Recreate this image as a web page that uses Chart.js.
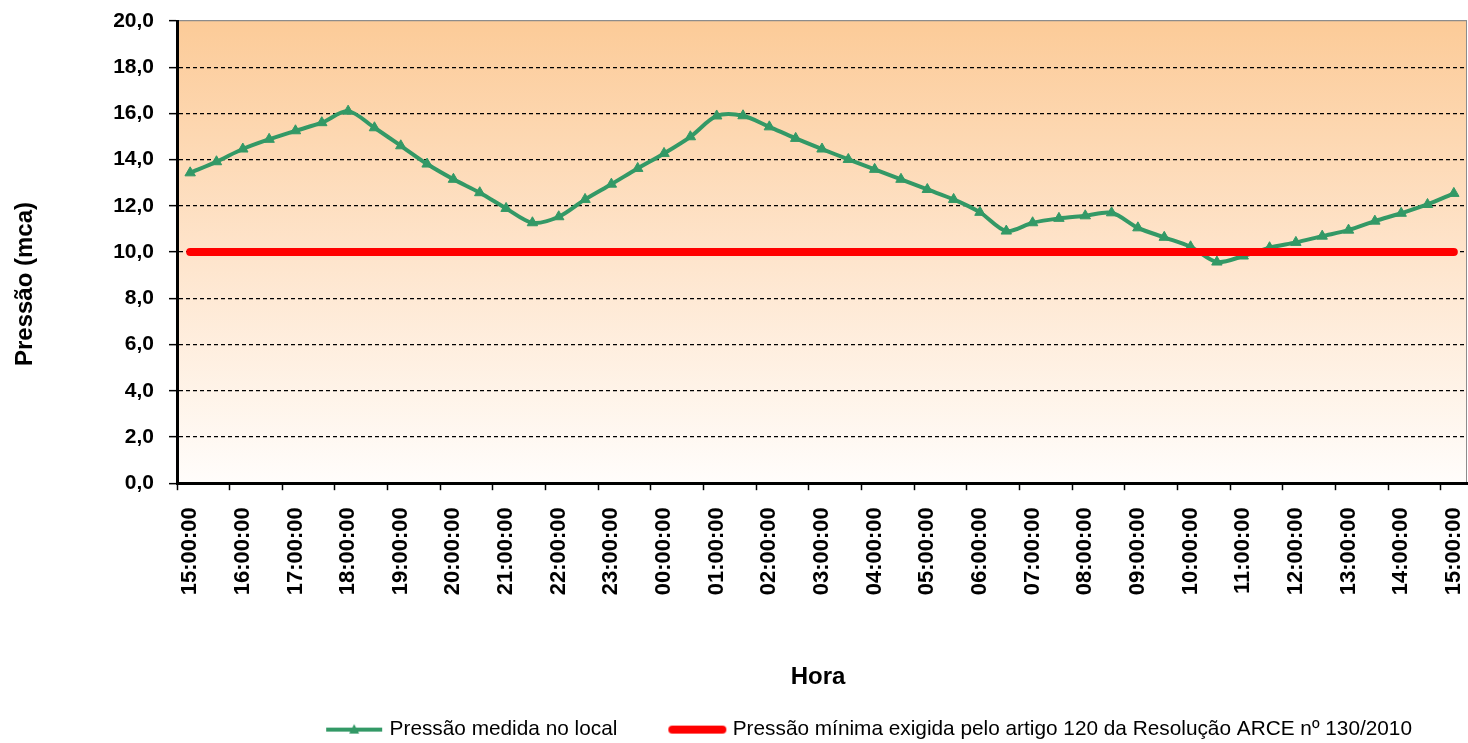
<!DOCTYPE html>
<html>
<head>
<meta charset="utf-8">
<script src="https://cdn.jsdelivr.net/npm/chart.js@4.4.1/dist/chart.umd.min.js"></script>
<style>
  body { margin: 0; background: #fff; }
  #wrap { width: 1468px; height: 743px; position: relative; }
</style>
</head>
<body>
<div id="wrap"><canvas id="pressaoChart"></canvas></div>
<script>
// --- Dados ---
const horas = [
    '15:00:00', '15:30:00', '16:00:00', '16:30:00', '17:00:00', '17:30:00', '18:00:00', '18:30:00',
    '19:00:00', '19:30:00', '20:00:00', '20:30:00', '21:00:00', '21:30:00', '22:00:00', '22:30:00',
    '23:00:00', '23:30:00', '00:00:00', '00:30:00', '01:00:00', '01:30:00', '02:00:00', '02:30:00',
    '03:00:00', '03:30:00', '04:00:00', '04:30:00', '05:00:00', '05:30:00', '06:00:00', '06:30:00',
    '07:00:00', '07:30:00', '08:00:00', '08:30:00', '09:00:00', '09:30:00', '10:00:00', '10:30:00',
    '11:00:00', '11:30:00', '12:00:00', '12:30:00', '13:00:00', '13:30:00', '14:00:00', '14:30:00',
    '15:00:00'
];

const pressaoMedida = [
    13.43, 13.91, 14.46, 14.88, 15.25, 15.60, 16.10, 15.38,
    14.60, 13.81, 13.15, 12.57, 11.89, 11.27, 11.53, 12.28,
    12.94, 13.62, 14.27, 14.99, 15.89, 15.90, 15.42, 14.92,
    14.46, 14.01, 13.58, 13.15, 12.71, 12.28, 11.72, 10.91,
    11.27, 11.46, 11.57, 11.70, 11.05, 10.64, 10.23, 9.57,
    9.83, 10.19, 10.42, 10.69, 10.95, 11.34, 11.68, 12.06,
    12.54
];

const pressaoMinima = [
    10, 10, 10, 10, 10, 10, 10, 10, 10, 10, 10, 10, 10, 10, 10, 10,
    10, 10, 10, 10, 10, 10, 10, 10, 10, 10, 10, 10, 10, 10, 10, 10,
    10, 10, 10, 10, 10, 10, 10, 10, 10, 10, 10, 10, 10, 10, 10, 10,
    10
];

const nomeMedida = 'Pressão medida no local';
const nomeMinima = 'Pressão mínima exigida pelo artigo 120 da Resolução ARCE nº 130/2010';

const VERDE = '#339966';
const VERMELHO = '#ff0000';

Chart.defaults.font.family = '"Liberation Sans", Arial, sans-serif';
Chart.defaults.color = '#000';

// --- Amostras da legenda (linha + marcador) ---
function amostraVerde() {
    const c = document.createElement('canvas');
    c.width = 58; c.height = 14;
    const g = c.getContext('2d');
    g.strokeStyle = VERDE;
    g.lineWidth = 4;
    g.beginPath(); g.moveTo(1, 7); g.lineTo(57, 7); g.stroke();
    g.fillStyle = VERDE;
    g.beginPath(); g.moveTo(29, 1.5); g.lineTo(34, 11); g.lineTo(24, 11); g.closePath(); g.fill();
    return c;
}

function amostraVermelha() {
    const c = document.createElement('canvas');
    c.width = 60; c.height = 12;
    const g = c.getContext('2d');
    g.strokeStyle = VERMELHO;
    g.lineWidth = 8;
    g.lineCap = 'round';
    g.beginPath(); g.moveTo(5, 6); g.lineTo(55, 6); g.stroke();
    return c;
}

const amostras = [amostraVerde(), amostraVermelha()];

// --- Fundo em degradê, borda e títulos dos eixos ---
const fundoPlugin = {
    id: 'fundo',
    beforeDraw(chart) {
        const { ctx, chartArea: a } = chart;
        const grad = ctx.createLinearGradient(0, a.top, 0, a.bottom);
        grad.addColorStop(0, 'rgb(252, 203, 152)');
        grad.addColorStop(0.5, 'rgb(254, 228, 203)');
        grad.addColorStop(1, 'rgb(255, 253, 251)');
        ctx.save();
        ctx.fillStyle = grad;
        ctx.fillRect(a.left, a.top, a.right - a.left, a.bottom - a.top);
        ctx.strokeStyle = '#8c8c8c';
        ctx.lineWidth = 1;
        ctx.beginPath();
        ctx.moveTo(a.right - 0.5, a.top);
        ctx.lineTo(a.right - 0.5, a.bottom);
        ctx.stroke();
        ctx.restore();
    },
    afterDraw(chart) {
        const { ctx } = chart;
        ctx.save();
        ctx.fillStyle = '#000';
        ctx.textAlign = 'center';
        ctx.textBaseline = 'middle';
        ctx.font = 'bold 24px "Liberation Sans", Arial, sans-serif';
        ctx.fillText('Hora', 818, 677);
        ctx.translate(25, 284);
        ctx.rotate(-Math.PI / 2);
        ctx.font = 'bold 24px "Liberation Sans", Arial, sans-serif';
        ctx.fillText('Pressão (mca)', 0, 0);
        ctx.restore();
    }
};

const ctxLine = document.getElementById('pressaoChart').getContext('2d');

new Chart(ctxLine, {
    type: 'line',
    data: {
        labels: horas,
        datasets: [{
            label: nomeMedida,
            data: pressaoMedida,
            borderColor: VERDE,
            backgroundColor: VERDE,
            borderWidth: 4,
            tension: 0.3,
            pointStyle: 'triangle',
            pointRadius: 6,
            pointBorderWidth: 1,
            pointBackgroundColor: VERDE,
            pointBorderColor: VERDE,
            order: 1
        }, {
            label: nomeMinima,
            data: pressaoMinima,
            borderColor: VERMELHO,
            backgroundColor: VERMELHO,
            borderWidth: 8,
            borderCapStyle: 'round',
            pointRadius: 0,
            order: 0
        }]
    },
    options: {
        responsive: true,
        maintainAspectRatio: false,
        animation: false,
        events: [],
        layout: { autoPadding: false, padding: { top: 21, right: 1, bottom: -7, left: 0 } },
        scales: {
            x: {
                type: 'category',
                offset: true,
                grid: {
                    offset: true,
                    drawOnChartArea: false,
                    tickLength: 7,
                    tickWidth: 1.5,
                    color: (c) => (c.index !== undefined && c.index % 2 === 0) ? '#000' : 'rgba(0,0,0,0)',
                    tickColor: (c) => (c.index !== undefined && c.index % 2 === 0) ? '#000' : 'rgba(0,0,0,0)'
                },
                border: { display: true, color: '#000', width: 3 },
                ticks: {
                    autoSkip: false,
                    maxRotation: 90,
                    minRotation: 90,
                    padding: 17,
                    font: { size: 22, weight: 'bold' },
                    callback: function (val, i) {
                        return i % 2 === 0 ? this.getLabelForValue(val) : '';
                    }
                },
                afterFit: (scale) => {
                    scale.height = 181;
                    scale.paddingLeft = 0;
                    scale.paddingRight = 0;
                }
            },
            y: {
                min: 0,
                max: 20,
                grid: {
                    lineWidth: 1.3,
                    tickLength: 8,
                    tickWidth: 1.5,
                    tickColor: '#000',
                    tickBorderDash: [],
                    color: (c) => {
                        if (!c.tick) return 'rgba(0,0,0,0)';
                        if (c.tick.value === 0) return 'rgba(0,0,0,0)';
                        if (c.tick.value === 20) return '#8c8c8c';
                        return '#000';
                    }
                },
                border: {
                    display: true,
                    color: '#000',
                    width: 3,
                    dash: (c) => (c.tick && c.tick.value === 20) ? [] : [4, 3]
                },
                ticks: {
                    stepSize: 2,
                    padding: 15,
                    font: { size: 21, weight: 'bold' },
                    callback: (v) => v.toFixed(1).replace('.', ',')
                },
                afterFit: (scale) => {
                    scale.width = 177;
                    scale.paddingTop = 0;
                    scale.paddingBottom = 0;
                }
            }
        },
        plugins: {
            legend: {
                position: 'bottom',
                align: 'end',
                labels: {
                    usePointStyle: true,
                    pointStyleWidth: 50,
                    padding: 55,
                    color: '#000',
                    font: { size: 20.8 },
                    sort: (a, b) => a.datasetIndex - b.datasetIndex,
                    generateLabels: (chart) => {
                        const itens = Chart.defaults.plugins.legend.labels.generateLabels(chart);
                        itens.forEach((it) => { it.pointStyle = amostras[it.datasetIndex]; });
                        return itens;
                    }
                }
            },
            tooltip: { enabled: false }
        }
    },
    plugins: [fundoPlugin]
});
</script>
</body>
</html>
